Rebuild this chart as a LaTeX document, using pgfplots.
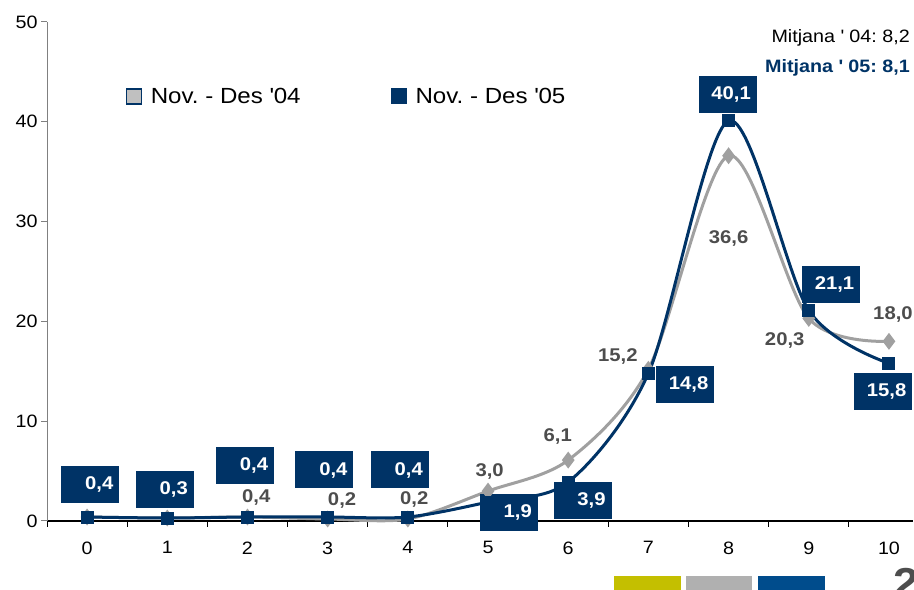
\documentclass[border=0pt]{standalone}
\usepackage{fontspec}
\setmainfont{Liberation Sans}[FakeStretch=1.1]
\usepackage{pgfplots}
\pgfplotsset{compat=1.18}
\definecolor{navy}{RGB}{0,51,102}
\definecolor{line04}{RGB}{160,160,160}
\definecolor{fill04}{RGB}{192,192,192}
\definecolor{lbl04}{RGB}{77,77,77}
\definecolor{barYel}{RGB}{196,191,0}
\definecolor{barGray}{RGB}{176,176,176}
\definecolor{barBlue}{RGB}{0,76,140}
\frenchspacing

\begin{document}
\begin{tikzpicture}[x=1bp,y=1bp]
\begin{axis}[
  at={(47bp,69bp)}, anchor=south west,
  scale only axis, width=866bp, height=499bp,
  xmin=-0.5, xmax=10.3, ymin=0, ymax=50,
  clip=false,
  axis x line=bottom, axis y line=left,
  x axis line style={-, black, line width=1.2bp},
  y axis line style={-, gray, line width=1bp},
  xtick={-0.5,0.5,...,9.5},
  xticklabels={0,1,2,3,4,5,6,7,8,9,10},
  x tick label style={xshift=40.1bp, yshift=-11bp},
  ytick={0,10,...,50},
  tick align=outside,
  major tick length=6bp,
  x tick style={black, line width=1bp},
  y tick style={gray, line width=1bp},
  tick label style={font=\fontsize{18}{18}\selectfont},
  /pgf/number format/assume math mode=true,
  legend style={at={(0.0905,0.851)}, anchor=west, draw=none, fill=none,
    inner sep=0pt, font=\fontsize{22}{22}\selectfont,
    legend columns=2,
    /tikz/every even column/.append style={column sep=88bp}},
  legend cell align=left,
]
\addplot[line04, line width=3bp, smooth, tension=0.5,
  mark=diamond*, mark size=6bp, mark options={fill=line04, draw=line04},
  legend image code/.code={\draw[fill=fill04, draw=navy, line width=1.5bp] (0bp,-7.5bp) rectangle (15bp,7.5bp); \path (21bp,0bp);}]
  coordinates {(0,0.4)(1,0.3)(2,0.4)(3,0.2)(4,0.2)(5,3.0)(6,6.1)(7,15.2)(8,36.6)(9,20.3)(10,18.0)};
\addlegendentry{Nov. - Des \textquotesingle 04}
\addplot[navy, line width=3bp, smooth, tension=0.5,
  mark=square*, mark size=5bp, mark options={fill=navy, draw=navy},
  legend image code/.code={\draw[fill=navy, draw=navy, line width=1bp] (0bp,-7.5bp) rectangle (15bp,7.5bp); \path (21bp,0bp);}]
  coordinates {(0,0.4)(1,0.3)(2,0.4)(3,0.4)(4,0.4)(5,1.9)(6,3.9)(7,14.8)(8,40.1)(9,21.1)(10,15.8)};
\addlegendentry{Nov. - Des \textquotesingle 05}

% grey value labels
\begin{scope}[every node/.style={text=lbl04, font=\bfseries\fontsize{18.5}{18.5}\selectfont}]
\node at (axis cs:2.11,2.4) {0,4};
\node at (axis cs:3.18,2.1) {0,2};
\node at (axis cs:4.08,2.2) {0,2};
\node at (axis cs:5.02,5.0) {3,0};
\node at (axis cs:5.87,8.5) {6,1};
\node at (axis cs:6.62,16.5) {15,2};
\node at (axis cs:8.00,28.3) {36,6};
\node at (axis cs:8.70,18.1) {20,3};
\node at (axis cs:10.05,20.7) {18,0};
\end{scope}

% navy value boxes
\begin{scope}[every node/.style={fill=navy, text=white, font=\bfseries\fontsize{18.5}{18.5}\selectfont,
    text width=46bp, align=right, inner xsep=6bp, inner ysep=0pt, minimum height=37bp}]
\node at (axis cs:0.04,3.66) {0,4};
\node at (axis cs:0.97,3.16) {0,3};
\node at (axis cs:1.97,5.61) {0,4};
\node at (axis cs:2.96,5.11) {0,4};
\node at (axis cs:3.90,5.11) {0,4};
\node at (axis cs:5.26,0.90) {1,9};
\node at (axis cs:6.18,2.10) {3,9};
\node at (axis cs:7.46,13.63) {14,8};
\node at (axis cs:7.99,42.7) {40,1};
\node at (axis cs:9.28,23.7) {21,1};
\node at (axis cs:9.93,13.0) {15,8};
\end{scope}
\end{axis}

\node[anchor=east, inner sep=0pt, font=\fontsize{18}{18}\selectfont] at (910,552) {Mitjana \textquotesingle\ 04: 8,2};
\node[anchor=east, inner sep=0pt, text=navy, font=\bfseries\fontsize{18}{18}\selectfont] at (910,522) {Mitjana \textquotesingle\ 05: 8,1};

\fill[barYel] (614,0) rectangle (681,14);
\fill[barGray] (686,0) rectangle (752,14);
\fill[barBlue] (758,0) rectangle (825,14);
\node[anchor=base west, inner sep=0pt, text=lbl04, font=\bfseries\fontsize{42}{42}\selectfont] at (893,-8) {2};

\pgfresetboundingbox
\path (0,0) rectangle (914,590);
\end{tikzpicture}
\end{document}
